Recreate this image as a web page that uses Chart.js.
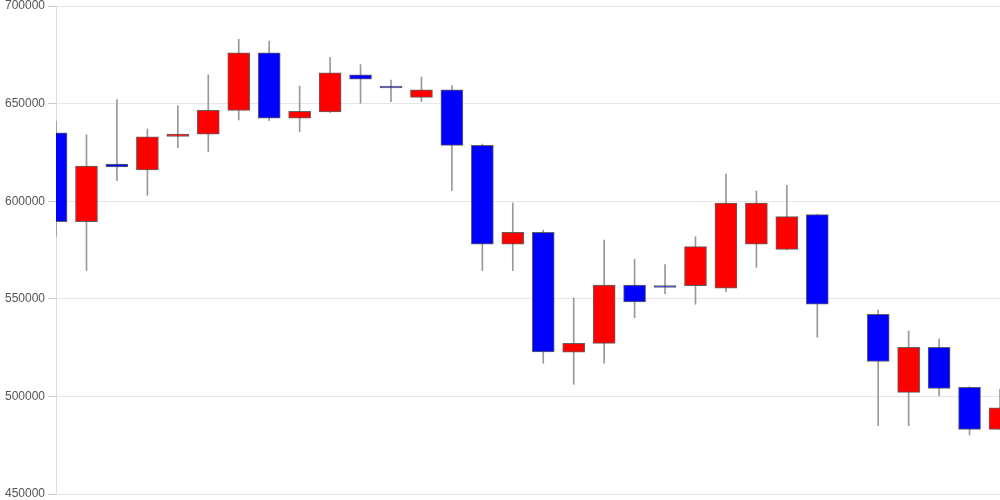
<!DOCTYPE html>
<html>
<head>
<meta charset="utf-8">
<script src="https://cdn.jsdelivr.net/npm/chart.js@4.4.0/dist/chart.umd.min.js"></script>
<style>
    html, body { margin: 0; padding: 0; background: #fff; }
    #wrap { width: 1000px; height: 500px; }
</style>
</head>
<body>
<div id="wrap"><canvas id="ChartVela"></canvas></div>
<script>
// ---------------- dados ------------------------
const dias = ['1', '2', '3', '4', '5', '6', '7', '8', '9', '10', '11', '12', '13', '14', '15', '16',
    '17', '18', '19', '20', '21', '22', '23', '24', '25', '26', '27', '28', '29', '30', '31', '32'];

const abertura = [635000, 589500, 619000, 616000, 633200, 634300, 646500, 676000, 642500, 645800, 664700, 658000,
    653200, 657000, 628600, 578000, 584000, 522600, 527200, 557000, 556800, 556700, 555400, 578000,
    575300, 593100, null, 542000, 502100, 525100, 504700, 483100];

const fechamento = [589500, 618000, 617500, 633000, 634400, 646500, 676000, 642500, 646000, 665700, 662500, 658000,
    657000, 628600, 578000, 584000, 522800, 527200, 557000, 548400, 555800, 576700, 599100, 599000,
    592100, 547300, null, 517900, 525100, 504100, 483100, 494200];

const maxima = [641000, 634000, 652000, 637000, 648800, 664700, 683000, 682000, 659000, 673700, 670000, 662000,
    663600, 659200, 629300, 599100, 585200, 550400, 580100, 570200, 567500, 581800, 613900, 605200,
    608100, 593200, null, 544300, 533500, 529400, 505000, 503600];

const minima = [582000, 564500, 610500, 603000, 627400, 625400, 641600, 641300, 635600, 645500, 650200, 651000,
    651000, 605400, 564400, 564400, 517000, 506200, 517000, 540300, 552600, 547200, 553700, 566100,
    575000, 530300, null, 485000, 485000, 500200, 480200, 483100];

const ticksY = [450000, 500000, 550000, 600000, 650000, 700000];

// ---------------- grafico ------------------------
const corpos = abertura.map((a, i) => a === null ? null : [a, fechamento[i]]);
const pavios = maxima.map((h, i) => h === null ? null : [minima[i], h]);
// alta = vermelho, baixa (ou igual) = azul
const cores = abertura.map((a, i) => (a !== null && fechamento[i] > a) ? '#ff0000' : '#0000ff');

const graficoVela = document.getElementById('ChartVela');

new Chart(graficoVela, {
    type: 'bar',
    data: {
        labels: dias,
        datasets: [{
            label: 'corpo',
            data: corpos,
            backgroundColor: cores,
            borderColor: 'rgba(70,70,70,0.85)',
            borderWidth: 1,
            borderSkipped: false,
            minBarLength: 2,
            barThickness: 22,
            grouped: false,
            order: 1
        }, {
            label: 'pavio',
            data: pavios,
            backgroundColor: '#999999',
            barThickness: 1,
            grouped: false,
            order: 2
        }]
    },
    options: {
        responsive: true,
        maintainAspectRatio: false,
        animation: false,
        layout: {
            padding: { left: 2, right: 0, top: 0, bottom: 0 }
        },
        scales: {
            x: {
                type: 'category',
                offset: false,
                display: false
            },
            y: {
                min: 450000,
                max: 700000,
                afterBuildTicks: (axis) => {
                    axis.ticks = ticksY.map(v => ({ value: v }));
                },
                afterFit: (axis) => {
                    axis.paddingTop = 6;
                    axis.paddingBottom = 6;
                },
                ticks: {
                    color: '#555',
                    font: { family: 'Liberation Sans, Arial, sans-serif', size: 12 },
                    callback: (v) => String(v)
                },
                grid: {
                    color: '#e6e6e6',
                    tickColor: '#cccccc'
                },
                border: {
                    display: true,
                    color: '#dddddd'
                }
            }
        },
        plugins: {
            legend: {
                display: false
            },
            tooltip: {
                enabled: false
            }
        }
    }
});
</script>
</body>
</html>
